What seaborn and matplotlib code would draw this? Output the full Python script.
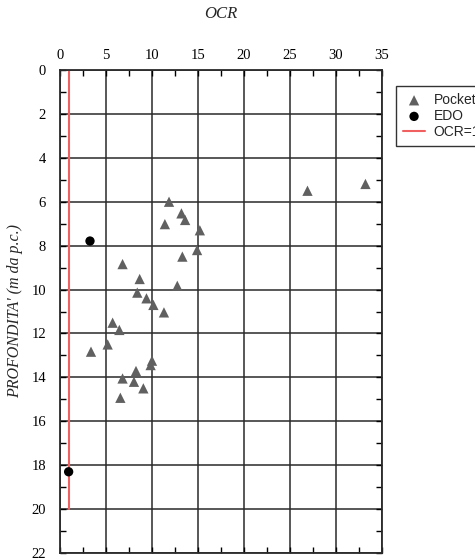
import numpy as np
import pandas as pd
import matplotlib
matplotlib.use("Agg")
import matplotlib.pyplot as plt
import seaborn as sns
from matplotlib.ticker import MultipleLocator

# data
pocket_ocr = [11.85, 13.2, 13.6, 11.4, 15.2, 14.9, 13.3, 6.8, 8.66, 12.75, 8.4, 9.4,
              10.15, 11.3, 5.72, 6.45, 5.18, 3.37, 10.0, 9.85, 8.26, 6.8, 8.04, 9.06,
              6.56, 26.9, 33.2]
pocket_depth = [6.0, 6.53, 6.83, 7.02, 7.3, 8.2, 8.5, 8.84, 9.52, 9.83, 10.14, 10.4,
                10.7, 11.04, 11.51, 11.84, 12.5, 12.83, 13.24, 13.44, 13.71, 14.05, 14.2, 14.5,
                14.93, 5.5, 5.19]
edo_ocr = [3.26, 0.94]
edo_depth = [7.79, 18.3]
ocr1_x = [1, 1]
ocr1_depth = [0, 20]

pocket = pd.DataFrame({"OCR": pocket_ocr, "depth": pocket_depth})
edo = pd.DataFrame({"OCR": edo_ocr, "depth": edo_depth})
ocr1 = pd.DataFrame({"OCR": ocr1_x, "depth": ocr1_depth})

sns.set_style("white")
plt.rcParams["font.family"] = ["Liberation Serif", "DejaVu Serif"]

fig = plt.figure(figsize=(4.75, 5.59), dpi=100)
ax = fig.add_axes([60/475, 1-553/559, 322/475, 483/559])

sns.scatterplot(data=pocket, x="OCR", y="depth", marker="^", color="#606060", s=55,
                edgecolor="none", label="Pocket", ax=ax, zorder=3)
sns.scatterplot(data=edo, x="OCR", y="depth", marker="o", color="black", s=45,
                edgecolor="none", label="EDO", ax=ax, zorder=3)
sns.lineplot(data=ocr1, x="OCR", y="depth", color="#f06060", lw=1.5, label="OCR=1",
             sort=False, estimator=None, ax=ax, zorder=2)

ax.set_xlim(0, 35)
ax.set_ylim(22, 0)
ax.xaxis.set_major_locator(MultipleLocator(5))
ax.xaxis.set_minor_locator(MultipleLocator(2.5))
ax.yaxis.set_major_locator(MultipleLocator(2))
ax.yaxis.set_minor_locator(MultipleLocator(1))
ax.xaxis.tick_top()
ax.xaxis.set_label_position("top")
ax.tick_params(which="both", direction="in", top=True, bottom=True, left=True, right=True,
               labelsize=10.5, colors="black")
ax.tick_params(which="major", length=4, width=1)
ax.tick_params(which="minor", length=4, width=1)
ax.tick_params(axis="x", pad=6)
ax.tick_params(axis="y", pad=10)
ax.grid(True, which="major", color="#2a2a2a", lw=1.1)
for sp in ax.spines.values():
    sp.set_color("#2a2a2a")
    sp.set_linewidth(1.3)

ax.set_xlabel("")
ax.set_ylabel("PROFONDITA' (m da p.c.)", fontstyle="italic", fontsize=11.5, labelpad=6)
fig.text(221/475, 1-14/559, "OCR", ha="center", va="center", fontstyle="italic", fontsize=12)

leg = ax.legend(loc="upper left", bbox_to_anchor=(396/475, 1-86/559),
                bbox_transform=fig.transFigure, frameon=True, fancybox=False,
                borderaxespad=0, prop={"family": "Liberation Sans", "size": 10},
                handlelength=1.6, handletextpad=0.6, borderpad=0.5, labelspacing=0.15)
leg.get_frame().set_edgecolor("black")
leg.get_frame().set_linewidth(1)

fig.savefig("out.png", dpi=100)
